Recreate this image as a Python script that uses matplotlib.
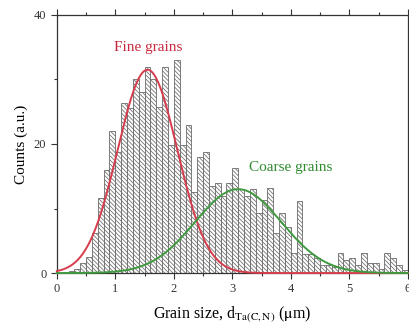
import numpy as np
import matplotlib
matplotlib.use("Agg")
import matplotlib.pyplot as plt
from matplotlib.ticker import MultipleLocator

plt.rcParams['font.family'] = ['Liberation Serif', 'DejaVu Serif']
plt.rcParams['hatch.linewidth'] = 0.55
plt.rcParams['mathtext.fontset'] = 'stix'

# histogram, bins of 0.1 um from 0 to 6
bin_width = 0.1
bin_left = np.round(np.arange(0, 6, bin_width), 2)
counts = [0, 0, 0.3, 0.6, 1.5, 2.5, 6.2, 11.6, 16.0, 22.0,
          18.8, 26.3, 25.6, 30.0, 28.0, 32.0, 30.0, 25.7, 32.0, 19.8,
          33.0, 19.8, 22.9, 12.5, 18.0, 18.8, 13.5, 14.0, 12.0, 14.0,
          16.3, 13.0, 12.0, 13.0, 9.3, 11.3, 13.2, 6.2, 9.3, 7.1,
          3.1, 11.2, 3.0, 3.0, 2.3, 1.2, 1.2, 1.0, 3.1, 2.0,
          2.3, 1.2, 3.1, 1.5, 1.5, 0.6, 3.1, 2.3, 1.2, 0.5]

# gaussian fits: (amplitude, centre, sigma)
fine_fit = (31.5, 1.55, 0.51)
coarse_fit = (13.0, 3.10, 0.74)

red = '#d63c4c'
green = '#3f9a3f'

fig = plt.figure(figsize=(4.09, 3.31), dpi=100)
ax = fig.add_axes([0.139, 0.175, 0.858, 0.780])

ax.bar(bin_left, counts, width=bin_width, align='edge', color='white',
       edgecolor='#6a6a6a', linewidth=0.6, hatch='\\' * 8, zorder=2)

xs = np.linspace(0, 6, 400)
for (amp, mu, sig), col in [(fine_fit, red), (coarse_fit, green)]:
    ax.plot(xs, amp * np.exp(-(xs - mu) ** 2 / (2 * sig ** 2)),
            color=col, lw=1.4, zorder=3, clip_on=False)

ax.text(1.56, 35, 'Fine grains', color='#c8283c', fontsize=11,
        ha='center', va='center')
ax.text(4.0, 16.3, 'Coarse grains', color='#2e8b2e', fontsize=11,
        ha='center', va='center')

ax.set_xlim(0, 6)
ax.set_ylim(0, 40)
ax.xaxis.set_major_locator(MultipleLocator(1))
ax.xaxis.set_minor_locator(MultipleLocator(0.5))
ax.yaxis.set_major_locator(MultipleLocator(20))
ax.yaxis.set_minor_locator(MultipleLocator(10))
ax.tick_params(which='both', direction='out', top=True, right=True,
               labelsize=9, colors='#333333', width=0.8)
ax.tick_params(which='major', length=4)
ax.tick_params(which='minor', length=2.5)
for s in ax.spines.values():
    s.set_color('#333333')
    s.set_linewidth(0.9)

ax.set_xlabel(r'Grain size, d$_{\mathrm{Ta(C,N)}}$ ($\mathrm{\mu}$m)',
              fontsize=11.5, labelpad=6)
ax.set_ylabel('Counts (a.u.)', fontsize=11, labelpad=4)

fig.savefig('out.png', dpi=100)
